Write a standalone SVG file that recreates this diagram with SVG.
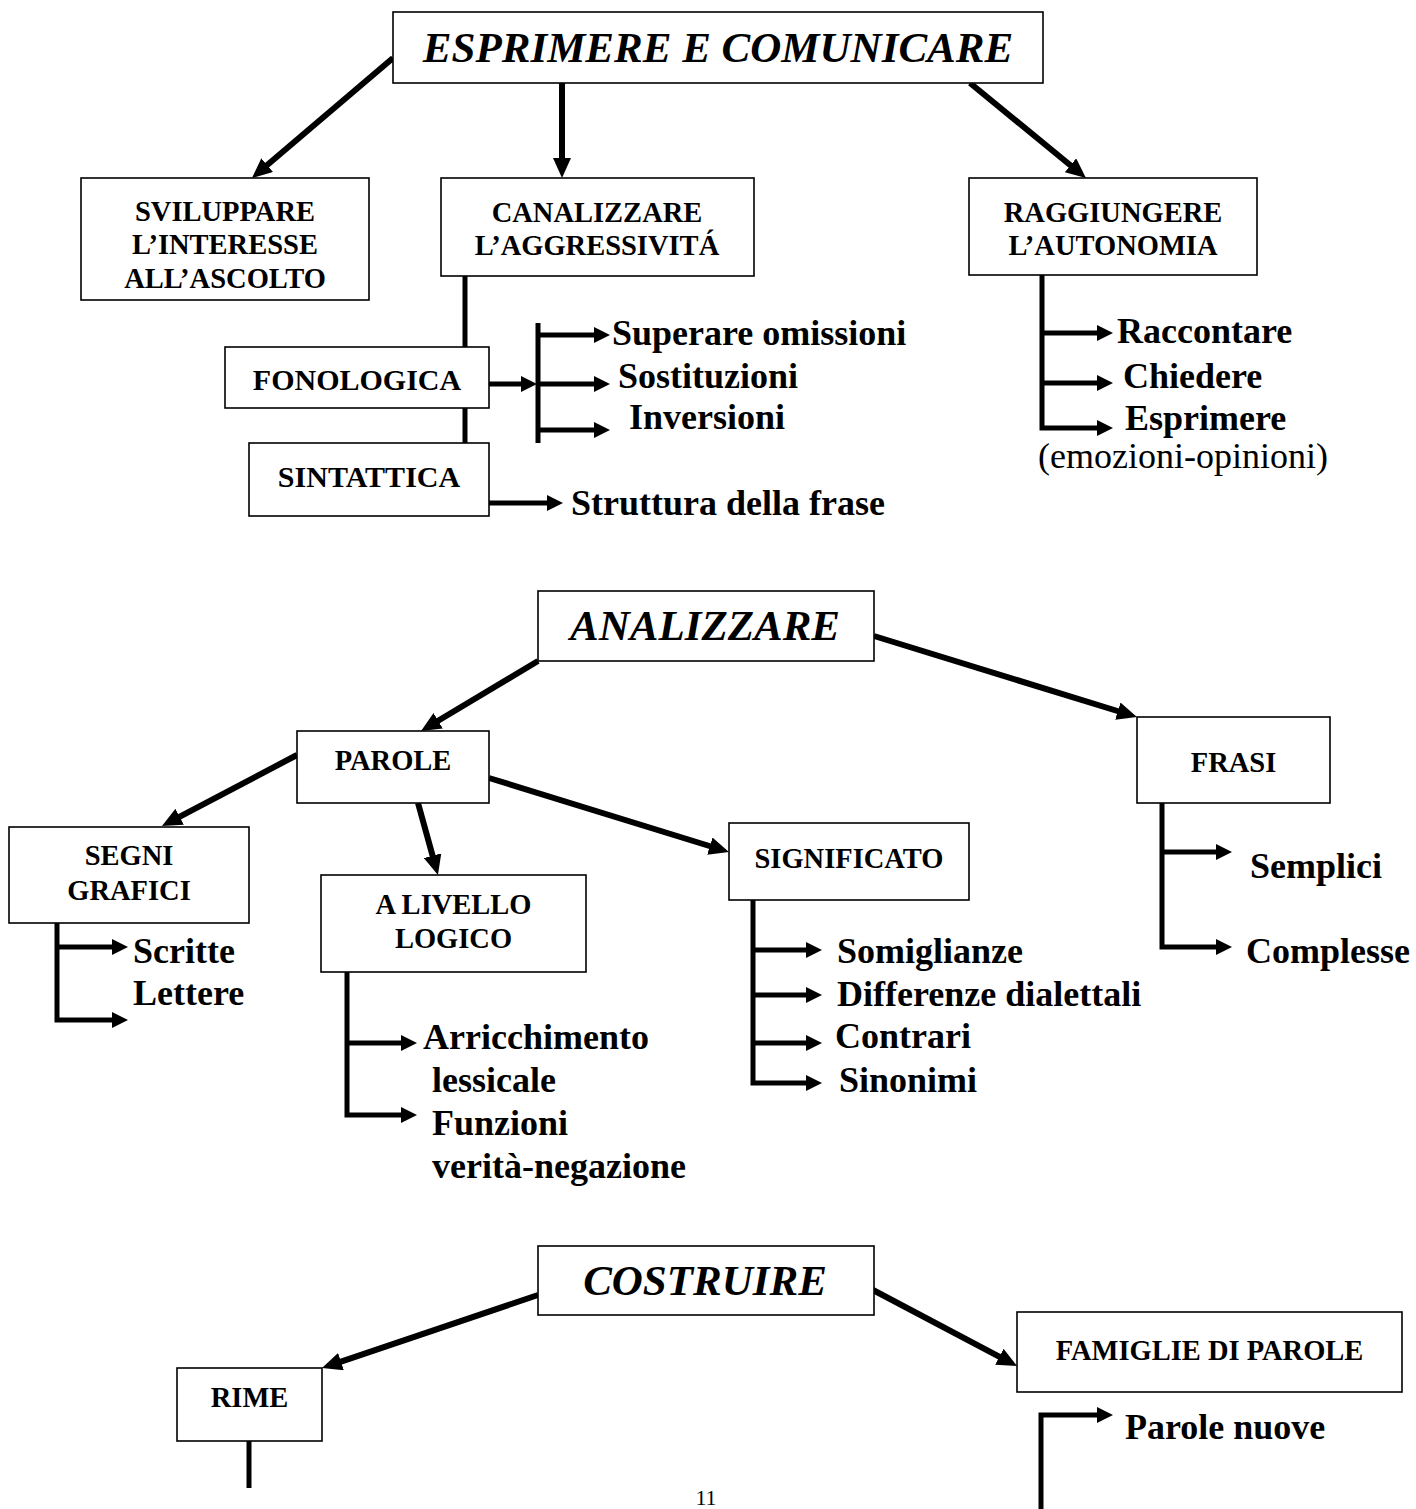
<svg xmlns="http://www.w3.org/2000/svg" width="1416" height="1509" viewBox="0 0 1416 1509">
<style>
.box{fill:#fff;stroke:#000;stroke-width:1.6}
.t{font-family:"Liberation Serif","Times New Roman",serif;fill:#000}
.title{font-size:43px;font-weight:bold;font-style:italic;text-anchor:middle}
.lbl{font-size:28.5px;font-weight:bold;text-anchor:middle}
.lbl30{font-size:30px;font-weight:bold;text-anchor:middle}
.item{font-size:36px;font-weight:bold}
.reg{font-size:36px}
.big{fill:none;stroke:#000;stroke-width:6;marker-end:url(#ab)}
.sm{fill:none;stroke:#000;stroke-width:5;stroke-linejoin:miter;marker-end:url(#as)}
.ln{fill:none;stroke:#000;stroke-width:5;stroke-linejoin:miter}
</style>
<defs>
<marker id="ab" viewBox="0 0 20 18" markerUnits="userSpaceOnUse" markerWidth="20" markerHeight="18" refX="3" refY="9" orient="auto"><path d="M0,0 L20,9 L0,18 z" fill="#000"/></marker>
<marker id="as" viewBox="0 0 16 16" markerUnits="userSpaceOnUse" markerWidth="16" markerHeight="16" refX="3" refY="8" orient="auto"><path d="M0,0 L16,8 L0,16 z" fill="#000"/></marker>
</defs>
<rect width="1416" height="1509" fill="#fff"/>

<g id="connectors">
<path class="big" d="M393,58 L264.9,167"/>
<path class="big" d="M562,83 L562,161"/>
<path class="big" d="M970,83 L1072.8,167.2"/>
<path class="ln" d="M465,276 V347 M465,408 V443"/>
<path class="sm" d="M489,384 H524"/>
<path class="ln" d="M538,323 V443"/>
<path class="sm" d="M538,335 H597"/>
<path class="sm" d="M538,384 H597"/>
<path class="sm" d="M538,430 H597"/>
<path class="sm" d="M489,503 H550"/>
<path class="sm" d="M1042,275 V428 H1100"/>
<path class="sm" d="M1042,333 H1100"/>
<path class="sm" d="M1042,383 H1100"/>
<path class="big" d="M538,661 L435.6,722.3"/>
<path class="big" d="M874,636 L1120.7,712"/>
<path class="big" d="M297,755 L177,818.1"/>
<path class="big" d="M418,803 L433.4,858.6"/>
<path class="big" d="M489,778 L712.7,847"/>
<path class="sm" d="M57,923 V1020 H115"/>
<path class="sm" d="M57,947 H115"/>
<path class="sm" d="M347,972 V1115 H404"/>
<path class="sm" d="M347,1043 H404"/>
<path class="sm" d="M753,900 V1083 H809"/>
<path class="sm" d="M753,950 H809"/>
<path class="sm" d="M753,995 H809"/>
<path class="sm" d="M753,1043 H809"/>
<path class="sm" d="M1162,803 V947 H1219"/>
<path class="sm" d="M1162,852 H1219"/>
<path class="big" d="M538,1295 L338.1,1362.6"/>
<path class="big" d="M873,1290 L1002,1358.1"/>
<path class="ln" d="M249,1441 V1488"/>
<path class="sm" d="M1041,1509 V1415 H1100"/>
</g>

<g id="esprimere"><rect class="box" x="393" y="12" width="650" height="71"/><text class="t title" x="718" y="62">ESPRIMERE E COMUNICARE</text></g>
<g id="sviluppare"><rect class="box" x="81" y="178" width="288" height="122"/><text class="t lbl" x="225" y="221">SVILUPPARE</text><text class="t lbl" x="225" y="254">L’INTERESSE</text><text class="t lbl" x="225" y="288">ALL’ASCOLTO</text></g>
<g id="canalizzare"><rect class="box" x="441" y="178" width="313" height="98"/><text class="t lbl" x="597" y="222">CANALIZZARE</text><text class="t lbl" x="597" y="255">L’AGGRESSIVITÁ</text></g>
<g id="raggiungere"><rect class="box" x="969" y="178" width="288" height="97"/><text class="t lbl" x="1113" y="222">RAGGIUNGERE</text><text class="t lbl" x="1113" y="255">L’AUTONOMIA</text></g>
<g id="fonologica"><rect class="box" x="225" y="347" width="264" height="61"/><text class="t lbl30" x="357" y="390">FONOLOGICA</text></g>
<g id="sintattica"><rect class="box" x="249" y="443" width="240" height="73"/><text class="t lbl30" x="369" y="487">SINTATTICA</text></g>
<g id="fono-items"><text class="t item" x="612" y="345">Superare omissioni</text><text class="t item" x="618" y="388">Sostituzioni</text><text class="t item" x="629" y="429">Inversioni</text></g>
<g id="sint-items"><text class="t item" x="571" y="515">Struttura della frase</text></g>
<g id="ragg-items"><text class="t item" x="1117" y="343">Raccontare</text><text class="t item" x="1123" y="388">Chiedere</text><text class="t item" x="1125" y="430">Esprimere</text><text class="t reg" x="1038" y="468">(emozioni-opinioni)</text></g>

<g id="analizzare"><rect class="box" x="538" y="591" width="336" height="70"/><text class="t title" x="705" y="640">ANALIZZARE</text></g>
<g id="parole"><rect class="box" x="297" y="731" width="192" height="72"/><text class="t lbl" x="393" y="770">PAROLE</text></g>
<g id="frasi"><rect class="box" x="1137" y="717" width="193" height="86"/><text class="t lbl" x="1233.5" y="772">FRASI</text></g>
<g id="segni"><rect class="box" x="9" y="827" width="240" height="96"/><text class="t lbl" x="129" y="865">SEGNI</text><text class="t lbl" x="129" y="900">GRAFICI</text></g>
<g id="livello"><rect class="box" x="321" y="875" width="265" height="97"/><text class="t lbl" x="453.5" y="914">A LIVELLO</text><text class="t lbl" x="453.5" y="948">LOGICO</text></g>
<g id="significato"><rect class="box" x="729" y="823" width="240" height="77"/><text class="t lbl" x="849" y="868">SIGNIFICATO</text></g>
<g id="segni-items"><text class="t item" x="133" y="963">Scritte</text><text class="t item" x="133" y="1005">Lettere</text></g>
<g id="livello-items"><text class="t item" x="423" y="1049">Arricchimento</text><text class="t item" x="432" y="1092">lessicale</text><text class="t item" x="432" y="1135">Funzioni</text><text class="t item" x="432" y="1178">verità-negazione</text></g>
<g id="signif-items"><text class="t item" x="837" y="963">Somiglianze</text><text class="t item" x="837" y="1006">Differenze dialettali</text><text class="t item" x="835" y="1048">Contrari</text><text class="t item" x="839" y="1092">Sinonimi</text></g>
<g id="frasi-items"><text class="t item" x="1250" y="878">Semplici</text><text class="t item" x="1246" y="963">Complesse</text></g>

<g id="costruire"><rect class="box" x="538" y="1246" width="336" height="69"/><text class="t title" x="705" y="1295">COSTRUIRE</text></g>
<g id="rime"><rect class="box" x="177" y="1368" width="145" height="73"/><text class="t lbl" x="249.5" y="1407">RIME</text></g>
<g id="famiglie"><rect class="box" x="1017" y="1312" width="385" height="80"/><text class="t lbl" x="1209.5" y="1360">FAMIGLIE DI PAROLE</text></g>
<g id="famiglie-items"><text class="t item" x="1125" y="1439">Parole nuove</text></g>
<text class="t" x="706" y="1505" font-size="22" text-anchor="middle">11</text>
</svg>
